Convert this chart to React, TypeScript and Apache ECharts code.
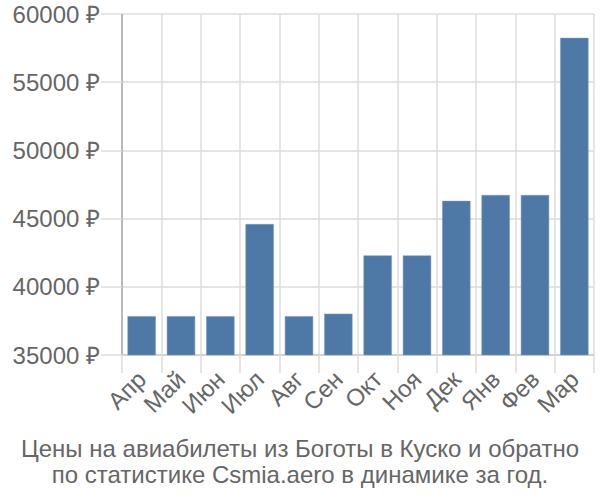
import React, { useEffect, useRef } from "react";
import * as echarts from "echarts";

const categories = ["Апр", "Май", "Июн", "Июл", "Авг", "Сен", "Окт", "Ноя", "Дек", "Янв", "Фев", "Мар"];
const prices = [37850, 37850, 37850, 44600, 37850, 38030, 42300, 42300, 46300, 46730, 46730, 58250];
const yMin = 35000;
const yMax = 60000;
const yStep = 5000;
const titleLines = [
  "Цены на авиабилеты из Боготы в Куско и обратно",
  "по статистике Csmia.aero в динамике за год.",
];

export default function App() {
  const ref = useRef<HTMLDivElement>(null);
  useEffect(() => {
    if (!ref.current) return;
    const chart = echarts.init(ref.current, null, { renderer: "svg" });
    const font = "'Liberation Sans', Arial, sans-serif";
    chart.setOption({
      animation: false,
      textStyle: { fontFamily: font },
      title: {
        text: titleLines.join("\n"),
        left: "center",
        top: 430,
        textStyle: { fontSize: 24, fontWeight: "normal", color: "#666", lineHeight: 26, fontFamily: font },
      },
      grid: { left: 122, right: 6, top: 14, bottom: 145 },
      xAxis: {
        type: "category",
        data: categories,
        boundaryGap: true,
        axisLine: { show: true, lineStyle: { color: "#ccc", width: 1.5 } },
        axisTick: { show: true, length: 18, lineStyle: { color: "#ddd", width: 1.5 } },
        splitLine: { show: true, lineStyle: { color: "#ddd", width: 1.5 } },
        axisLabel: { rotate: 45, fontSize: 24, color: "#666", margin: 20, interval: 0, fontFamily: font },
      },
      yAxis: {
        type: "value",
        min: yMin,
        max: yMax,
        interval: yStep,
        axisLine: { show: true, lineStyle: { color: "#aaa", width: 1.5 } },
        axisTick: { show: true, length: 21, lineStyle: { color: "#ddd", width: 1.5 } },
        splitLine: { show: true, lineStyle: { color: "#ddd", width: 1.5 } },
        axisLabel: { fontSize: 24, color: "#666", margin: 22, formatter: (v: number) => `${v} ₽`, fontFamily: font },
      },
      series: [
        {
          type: "bar",
          data: prices,
          barCategoryGap: "28%",
          itemStyle: { color: "#4e79a7", borderColor: "#7c9bc0", borderWidth: 0.5 },
        },
      ],
    });
    return () => chart.dispose();
  }, []);
  return <div ref={ref} style={{ position: "absolute", left: 0, top: 0, width: 600, height: 500 }} />;
}
